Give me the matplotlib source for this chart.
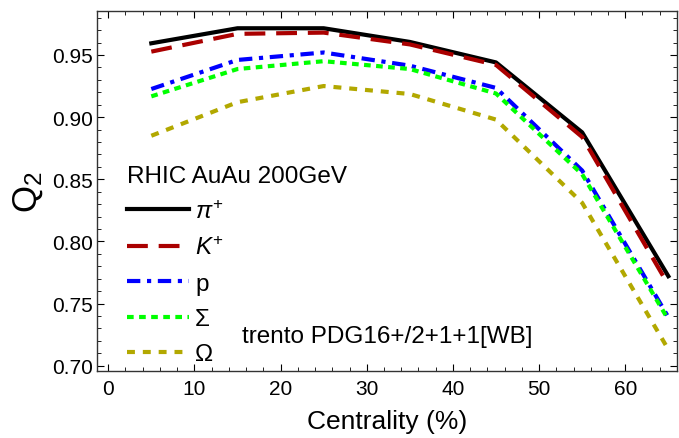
import matplotlib
matplotlib.use("Agg")
import matplotlib.pyplot as plt
from matplotlib.ticker import MultipleLocator

plt.rcParams['font.family'] = ['Liberation Sans', 'DejaVu Sans']
plt.rcParams['mathtext.fontset'] = 'custom'
plt.rcParams['mathtext.rm'] = 'Liberation Sans'
plt.rcParams['mathtext.it'] = 'Liberation Sans:italic'

# centrality bins (%)
centrality = [5, 15, 25, 35, 45, 55, 65]

q2_pion = [0.9594, 0.9715, 0.9715, 0.9605, 0.9440, 0.8877, 0.7720]
q2_kaon = [0.9527, 0.9670, 0.9680, 0.9585, 0.9420, 0.8840, 0.7650]
q2_proton = [0.9226, 0.9460, 0.9520, 0.9414, 0.9235, 0.8570, 0.7390]
q2_sigma = [0.9167, 0.9387, 0.9450, 0.9387, 0.9190, 0.8540, 0.7370]
q2_omega = [0.8850, 0.9120, 0.9250, 0.9186, 0.8980, 0.8310, 0.7130]

labels = [r'$\pi^{+}$', r'$K^{+}$', 'p', 'Σ', 'Ω']

fig = plt.figure(figsize=(6.79, 4.39), dpi=100)
ax = fig.add_axes([0.1429, 0.1526, 0.997 - 0.1429, 0.9727 - 0.1526])

ax.plot(centrality, q2_pion, color='black', lw=3.0, label=labels[0])
ax.plot(centrality, q2_kaon, color='#AA0000', lw=3.0, dashes=(5, 2.6), label=labels[1])
ax.plot(centrality, q2_proton, color='#0000FF', lw=3.0, dashes=(3.2, 1.6, 1.0, 1.6), label=labels[2])
ax.plot(centrality, q2_sigma, color='#00FF00', lw=3.0, dashes=(1.6, 1.3), label=labels[3])
ax.plot(centrality, q2_omega, color='#B2A800', lw=3.0, dashes=(1.9, 1.9), label=labels[4])

ax.set_xlim(-1.3, 66.0)
ax.set_ylim(0.6957, 0.9854)
ax.xaxis.set_major_locator(MultipleLocator(10))
ax.xaxis.set_minor_locator(MultipleLocator(2))
ax.yaxis.set_major_locator(MultipleLocator(0.05))
ax.yaxis.set_minor_locator(MultipleLocator(0.01))
ax.yaxis.set_major_formatter(matplotlib.ticker.FormatStrFormatter('%.2f'))
ax.tick_params(which='both', direction='in', top=True, right=True,
               labelsize=15)
ax.tick_params(axis='x', pad=6)
ax.tick_params(axis='y', pad=3)
ax.tick_params(which='major', length=5, width=0.8)
ax.tick_params(which='minor', length=3, width=0.6)
for s in ax.spines.values():
    s.set_linewidth(1.0)
    s.set_color('#333333')

ax.set_xlabel('Centrality (%)', fontsize=19, labelpad=8)
ax.set_ylabel(r'$\mathrm{Q}_2$', fontsize=25, labelpad=5)

leg = ax.legend(loc='upper left', bbox_to_anchor=(0.035, 0.60), frameon=False,
                title='RHIC AuAu 200GeV', title_fontsize=17.5, fontsize=17.5,
                handlelength=2.55, handletextpad=0.25, labelspacing=0.55,
                borderaxespad=0)
leg._legend_box.align = 'left'

ax.text(0.2495, 0.098, 'trento PDG16+/2+1+1[WB]', transform=ax.transAxes,
        fontsize=17.5, va='center', ha='left')

fig.savefig('out.png', dpi=100)
